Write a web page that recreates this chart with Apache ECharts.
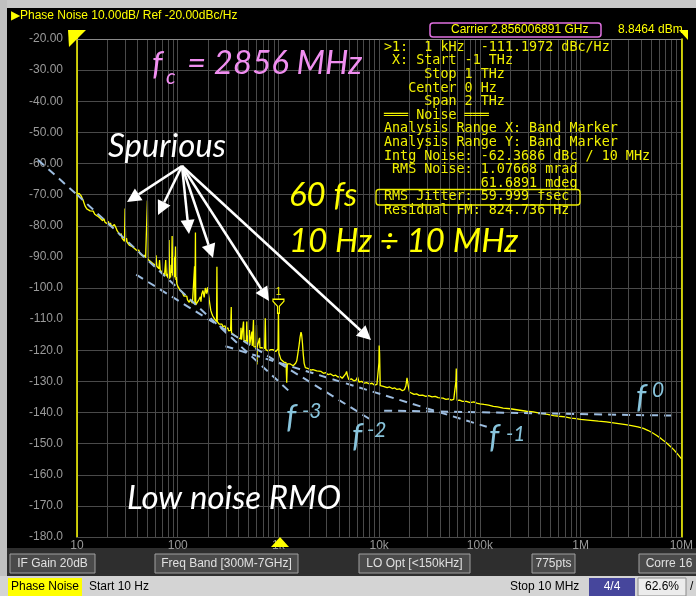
<!DOCTYPE html>
<html>
<head>
<meta charset="utf-8">
<script src="https://cdn.jsdelivr.net/npm/echarts@6/dist/echarts.min.js"></script>
<style>
  html, body { margin: 0; padding: 0; background: #000; }
  #chart { width: 696px; height: 596px; }
</style>
</head>
<body>
<div id="chart"></div>
<script>
// phase noise trace, [offset freq Hz, dBc/Hz]
const trace = [
  [10,-70.0],[10.5,-69.6],[11,-70.4],[11.5,-71.8],[12,-73.6],[12.5,-74.6],[13,-74.1],[13.5,-75.2],[14,-75.8],[14.5,-75.3],
  [15,-76.3],[15.5,-76.0],[16,-76.9],[16.5,-76.4],[17,-77.6],[17.5,-77.2],[18,-78.4],[18.5,-77.7],[19,-78.9],[19.5,-78.4],
  [20,-79.3],[20.5,-78.6],[21,-80.0],[21.5,-79.1],[22,-80.4],[22.5,-80.9],[23,-80.5],[23.5,-79.6],[24,-79.0],[24.5,-80.8],
  [25,-81.6],[26,-82.4],[27,-83.2],[27.5,-82.5],[28,-84.0],[28.5,-83.4],[29,-84.6],[29.6,-85.0],[30,-74.5],[30.4,-85.2],
  [31,-84.0],[31.5,-85.3],[32,-84.8],[33,-86.2],[34,-85.7],[35,-86.6],[36,-86.0],[37,-87.2],[38,-86.8],[39,-87.9],
  [40,-88.4],[41,-87.8],[42,-88.9],[43,-88.5],[44,-89.6],[45,-89.2],[46,-90.0],[47,-89.5],[48,-90.3],[49.5,-90.6],
  [50,-71.9],[50.5,-90.8],[52,-90.4],[53,-91.3],[55,-91.0],[56,-92.0],[58,-91.6],[60,-92.8],[61,-89.5],[62,-93.0],
  [64,-92.6],[65,-93.8],[66,-91.0],[67,-94.2],[69,-94.0],[70,-95.0],[72,-94.6],[74,-95.8],[75,-95.4],[76,-91.0],
  [77,-96.2],[78.5,-95.5],[80,-96.8],[81,-93.0],[82,-84.6],[83,-97.0],[84,-95.6],[85,-96.6],[86,-92.5],[87,-95.2],
  [88,-83.3],[89,-96.0],[90,-94.8],[91,-97.0],[92,-90.0],[93,-96.5],[94,-93.0],[95,-86.7],[96,-97.4],[97,-96.5],
  [98,-98.6],[100,-99.4],[103,-98.8],[105,-100.6],[108,-100.1],[110,-101.2],[113,-100.8],[115,-102.6],[118,-102.0],[120,-103.2],
  [123,-102.6],[125,-103.8],[128,-103.2],[130,-104.6],[133,-103.8],[135,-104.2],[138,-103.6],[140,-104.9],[143,-105.3],[145,-104.6],
  [147,-93.0],[148,-105.2],[149,-104.8],[150,-82.2],[151,-105.4],[153,-104.8],[155,-105.2],[158,-104.4],[160,-104.8],[163,-103.6],
  [165,-104.0],[168,-102.8],[170,-104.4],[173,-102.0],[175,-102.6],[178,-100.8],[180,-101.4],[183,-103.0],[185,-102.4],[188,-100.0],
  [190,-99.6],[193,-101.8],[195,-101.0],[198,-99.8],[200,-100.4],[203,-102.5],[205,-103.6],[208,-105.0],[210,-105.6],[213,-107.2],
  [215,-106.6],[218,-108.2],[220,-107.6],[223,-109.0],[225,-108.6],[228,-109.6],[230,-108.8],[233,-110.0],[235,-109.4],[238,-110.6],
  [241,-110.2],[243,-110.8],[245,-93.2],[247,-110.8],[250,-110.4],[253,-111.4],[255,-110.9],[258,-111.6],[260,-111.0],[263,-111.8],
  [267,-111.3],[270,-112.0],[275,-111.6],[280,-112.4],[285,-112.0],[290,-112.8],[295,-112.2],[300,-113.2],[305,-112.6],[310,-113.4],
  [315,-112.8],[320,-113.8],[325,-113.2],[330,-114.0],[335,-113.6],[338,-114.2],[340,-106.1],[342,-114.4],[345,-113.8],[350,-114.6],
  [355,-114.0],[360,-115.0],[365,-114.4],[370,-115.2],[375,-114.8],[380,-115.6],[385,-115.0],[390,-115.8],[395,-115.2],[400,-116.0],
  [405,-115.4],[410,-116.2],[415,-115.6],[420,-116.4],[425,-112.8],[430,-116.6],[435,-116.0],[440,-116.8],[445,-116.2],[450,-110.8],
  [455,-116.8],[460,-117.2],[465,-116.4],[470,-117.4],[475,-116.6],[480,-117.0],[485,-110.8],[490,-117.6],[495,-117.0],[500,-117.8],
  [505,-117.2],[510,-118.0],[515,-113.5],[520,-118.0],[525,-117.4],[530,-118.2],[535,-117.6],[540,-118.4],[545,-114.0],[550,-118.6],
  [555,-118.0],[560,-118.6],[565,-110.3],[570,-118.8],[575,-118.2],[580,-118.8],[590,-118.4],[600,-119.0],[605,-111.9],[610,-119.2],
  [612,-124.6],[615,-119.0],[620,-118.6],[625,-119.2],[630,-118.8],[640,-119.4],[650,-116.0],[655,-119.2],[660,-119.6],[670,-119.0],
  [680,-119.6],[690,-119.2],[700,-119.8],[710,-119.4],[720,-119.8],[730,-119.4],[740,-109.7],[750,-119.8],[760,-119.4],[770,-120.0],
  [780,-119.6],[790,-120.2],[800,-119.8],[820,-120.2],[840,-119.8],[860,-120.4],[880,-119.8],[900,-120.2],[920,-119.6],[940,-120.4],
  [960,-119.8],[980,-120.4],[990,-119.6],[1000,-106.5],[1010,-120.8],[1020,-121.4],[1040,-122.2],[1060,-123.0],[1080,-122.6],[1100,-123.4],
  [1130,-123.8],[1160,-124.2],[1190,-124.0],[1208,-130.4],[1225,-124.4],[1250,-124.2],[1280,-124.6],[1310,-124.4],[1340,-124.8],[1370,-124.6],
  [1400,-125.0],[1440,-124.8],[1480,-124.2],[1520,-123.4],[1560,-121.0],[1600,-118.6],[1640,-115.8],[1675,-114.2],[1700,-115.0],[1730,-117.6],
  [1760,-121.0],[1800,-124.2],[1850,-125.6],[1900,-126.0],[1950,-125.8],[2000,-126.2],[2100,-126.4],[2200,-126.2],[2300,-126.8],[2400,-126.6],
  [2500,-127.0],[2650,-126.8],[2800,-127.4],[2950,-127.2],[3100,-127.8],[3300,-127.6],[3500,-128.2],[3700,-128.0],[3900,-128.6],[4100,-128.4],
  [4300,-129.0],[4500,-128.8],[4650,-127.6],[4750,-126.8],[4850,-128.2],[5000,-129.4],[5300,-129.2],[5600,-129.8],[5900,-129.6],[6100,-128.6],
  [6300,-130.2],[6700,-130.0],[7100,-130.6],[7500,-130.4],[8000,-130.8],[8500,-130.6],[9000,-131.2],[9500,-131.0],[9850,-131.4],[9950,-124.0],
  [10000,-118.5],[10100,-121.0],[10250,-131.4],[10600,-131.0],[11000,-131.6],[11500,-131.4],[12000,-132.0],[12700,-131.8],[13500,-132.3],[14300,-132.1],
  [15000,-132.6],[16000,-132.4],[17000,-133.0],[17800,-132.7],[18400,-131.5],[18900,-128.9],[19400,-131.2],[20000,-133.4],[21000,-133.8],[22200,-134.2],
  [23500,-134.0],[25000,-134.5],[27000,-134.4],[29000,-134.8],[31000,-134.6],[33500,-135.0],[36000,-134.8],[38500,-135.2],[40600,-135.3],[43000,-135.4],
  [46000,-135.8],[49000,-135.6],[52000,-136.0],[55000,-135.8],[57000,-136.0],[57800,-130.0],[58300,-125.9],[58800,-132.0],[59500,-136.1],[63000,-136.0],
  [67000,-136.4],[73500,-136.4],[80000,-136.8],[87000,-136.6],[93000,-137.0],[100000,-137.2],[110000,-137.4],[122000,-137.6],[136000,-138.0],[150000,-138.2],
  [170000,-138.6],[200000,-138.8],[240000,-139.2],[290000,-139.6],[340000,-139.8],[400000,-140.3],[470000,-140.6],[540000,-141.0],[610000,-141.2],[700000,-141.4],
  [800000,-141.8],[900000,-142.0],[1000000,-142.2],[1250000,-142.5],[1500000,-142.8],[1800000,-143.0],[2200000,-143.4],[2800000,-143.9],[3200000,-144.2],[3700000,-144.6],
  [4200000,-145.1],[4700000,-145.8],[5200000,-146.6],[5700000,-147.4],[6300000,-148.4],[7100000,-149.7],[7800000,-150.9],[8500000,-152.1],[9200000,-153.4],[10000000,-154.8]
]

// slope guide lines (dashed)
const fitM3 = [[10, -70.0], [1253, -132.9]]
const fitM2 = [[38.7, -95.7], [8240, -142.3]]
const fitM1 = [[298, -118.7], [117000, -144.6]]
const fit0 = [[11200, -139.4], [8100000, -141.0]]
// the f^-3 guide runs on past the left edge, into the label column
const fitM3Start = [38, 160]

const markerFreq = 1000
const markerPeak = -106.5

const yMin = -180, yMax = -20, yStep = 10
const xMin = 10, xMax = 1e7
const xTickLabels = { 10: '10', 100: '100', 1000: '1k', 10000: '10k', 100000: '100k', 1000000: '1M', 10000000: '10M' }

const markerPanel = [
  '>1:  1 kHz  -111.1972 dBc/Hz',
  ' X: Start -1 THz',
  '     Stop 1 THz',
  '   Center 0 Hz',
  '     Span 2 THz',
  '═══ Noise ═══',
  'Analysis Range X: Band Marker',
  'Analysis Range Y: Band Marker',
  'Intg Noise: -62.3686 dBc / 10 MHz',
  ' RMS Noise: 1.07668 mrad',
  '            61.6891 mdeg',
  'RMS Jitter: 59.999 fsec',
  'Residual FM: 824.736 Hz'
]

const buttons = [
  { text: 'IF Gain 20dB', x: 10, w: 85 },
  { text: 'Freq Band [300M-7GHz]', x: 155, w: 143 },
  { text: 'LO Opt [<150kHz]', x: 359, w: 111 },
  { text: '775pts', x: 532, w: 43 },
  { text: 'Corre 16', x: 639, w: 60 }
]

// arrows from "Spurious" to the spurs
const arrowFrom = [182, 166]
const arrowTips = [[127, 202], [158, 215], [189, 234], [213, 258], [269, 301], [371, 340]]

// minor log grid lines 20..90 in every decade
const minorLines = []
for (let d = 10; d < xMax; d *= 10) {
  for (let m = 2; m <= 9; m++) minorLines.push({ xAxis: d * m })
}

const chart = echarts.init(document.getElementById('chart'))

const txt = (x, y, text, font, fill, align) => ({
  type: 'text', z: 100, silent: true,
  style: { x, y, text, font, fill, align: align || 'left', verticalAlign: 'middle', textAlign: align || 'left', textVerticalAlign: 'middle' }
})

const arrow = (from, to) => {
  const dx = to[0] - from[0], dy = to[1] - from[1]
  const len = Math.sqrt(dx * dx + dy * dy)
  const ux = dx / len, uy = dy / len
  const bx = to[0] - ux * 14, by = to[1] - uy * 14
  return [
    { type: 'line', z: 90, silent: true, shape: { x1: from[0], y1: from[1], x2: bx, y2: by }, style: { stroke: '#fff', lineWidth: 2.5 } },
    { type: 'polygon', z: 90, silent: true, shape: { points: [to, [bx - uy * 7, by + ux * 7], [bx + uy * 7, by - ux * 7]] }, style: { fill: '#fff' } }
  ]
}

const dashed = data => ({
  type: 'line', data, symbol: 'none', silent: true, z: 4,
  lineStyle: { color: '#9dbde0', width: 2, type: [8, 6] }
})

chart.setOption({
  backgroundColor: '#000',
  animation: false,
  grid: { left: 77, top: 39, width: 609, height: 498 },
  xAxis: {
    type: 'log', logBase: 10, min: xMin, max: xMax,
    axisLine: { lineStyle: { color: '#4a4a4a' } },
    axisTick: { show: false },
    splitLine: { lineStyle: { color: '#4a4a4a', width: 1 } },
    axisLabel: {
      color: '#9a9a9a', fontSize: 12, fontFamily: 'Liberation Sans', margin: 3,
      formatter: v => xTickLabels[Math.round(v)] || ''
    }
  },
  yAxis: [
    {
      type: 'value', min: yMin, max: yMax, interval: yStep,
      axisLine: { show: true, lineStyle: { color: '#ffff00', width: 1.5 } },
      axisTick: { show: false },
      splitLine: { lineStyle: { color: '#4a4a4a', width: 1 } },
      axisLabel: {
        fontSize: 12, fontFamily: 'Liberation Sans', margin: 14,
        color: v => (v === yMax ? '#ffff00' : '#9a9a9a'),
        formatter: v => (v > -100 ? v.toFixed(2) : v.toFixed(1))
      }
    },
    {
      type: 'value', min: yMin, max: yMax, interval: yStep, position: 'right',
      axisLine: { show: true, lineStyle: { color: '#ffff00', width: 1.5 } },
      axisTick: { show: false }, axisLabel: { show: false }, splitLine: { show: false }
    }
  ],
  series: [
    {
      type: 'line', data: [], z: 1, silent: true,
      markLine: {
        silent: true, symbol: ['none', 'none'], label: { show: false }, animation: false,
        lineStyle: { color: '#4a4a4a', width: 1, type: 'solid' },
        emphasis: { disabled: true },
        data: [...minorLines, { yAxis: yMax, lineStyle: { color: '#8a8a8a' } }]
      }
    },
    {
      type: 'line', data: trace, symbol: 'none', z: 3, silent: true,
      lineStyle: { color: '#ffff00', width: 1.3 },
      markPoint: {
        silent: true, animation: false,
        symbol: 'path://M0,0 L12,0 L12,2 L7,7 L7,14 L5,14 L5,7 L0,2 Z',
        symbolSize: [11, 14], symbolOffset: [0, -2],
        itemStyle: { color: '#000', borderColor: '#ffff00', borderWidth: 1.3 },
        label: { show: true, position: 'top', distance: 1, formatter: '1', color: '#ffff00', fontSize: 10, fontFamily: 'Liberation Sans' },
        data: [{ coord: [markerFreq, markerPeak] }]
      }
    },
    dashed(fitM3),
    dashed(fitM2),
    dashed(fitM1),
    dashed(fit0)
  ]
})

const m3Edge = chart.convertToPixel({ gridIndex: 0 }, fitM3[0])

const graphics = [
  // frame
  { type: 'rect', shape: { x: 0, y: 0, width: 696, height: 8 }, style: { fill: '#c8c8c8' } },
  { type: 'rect', shape: { x: 0, y: 0, width: 7, height: 596 }, style: { fill: '#c0c0c0' } },
  { type: 'rect', shape: { x: 7, y: 548, width: 689, height: 28 }, style: { fill: '#2e2e2e' } },
  { type: 'rect', shape: { x: 0, y: 576, width: 696, height: 20 }, style: { fill: '#d4d4d4' } },
  txt(11, 16, '▶Phase Noise 10.00dB/ Ref -20.00dBc/Hz', '12px "Liberation Sans"', '#ffff00'),
  { type: 'rect', shape: { x: 430, y: 23, width: 171, height: 14, r: 3 }, style: { fill: 'none', stroke: '#e070e0', lineWidth: 1.5 } },
  txt(451, 30, 'Carrier 2.856006891 GHz', '12px "Liberation Sans"', '#ffff00'),
  txt(618, 30, '8.8464 dBm', '12px "Liberation Sans"', '#ffff00'),
  // f^-3 guide extension
  { type: 'line', z: 80, silent: true, shape: { x1: fitM3Start[0], y1: fitM3Start[1], x2: m3Edge[0], y2: m3Edge[1] }, style: { stroke: '#9dbde0', lineWidth: 2, lineDash: [8, 6] } },
  // reference level / trace flags
  { type: 'polygon', z: 95, shape: { points: [[68, 30], [86, 30], [69, 47]] }, style: { fill: '#ffff00' } },
  { type: 'line', z: 95, shape: { x1: 77, y1: 30, x2: 77, y2: 39 }, style: { stroke: '#ffff00', lineWidth: 1.5 } },
  { type: 'polygon', z: 95, shape: { points: [[679, 30], [688, 30], [688, 40]] }, style: { fill: '#ffff00' } },
  { type: 'polygon', z: 95, shape: { points: [[280, 537], [289, 547], [271, 547]] }, style: { fill: '#ffff00' } },
  // marker panel
  ...markerPanel.map((s, i) => txt(384, 47.3 + i * 13.6, s, '13.4px "DejaVu Sans Mono"', '#f0f000')),
  { type: 'rect', z: 100, shape: { x: 376, y: 189.5, width: 204, height: 15.5, r: 3 }, style: { fill: 'none', stroke: '#f0f000', lineWidth: 1.3 } },
  // annotations
  txt(152, 64, 'f', 'italic 33px Lato', '#f08ef0'),
  txt(166, 77, 'c', 'italic 21px Lato', '#f08ef0'),
  txt(187, 63, '= 2856 MHz', 'italic 33px Lato', '#f08ef0'),
  txt(108, 146, 'Spurious', 'italic 33px Lato', '#ffffff'),
  txt(289, 195, '60 fs', 'italic 33px Lato', '#ffff00'),
  txt(289, 241, '10 Hz ÷ 10 MHz', 'italic 33px Lato', '#ffff00'),
  txt(127, 498, 'Low noise RMO', 'italic 33px Lato', '#ffffff'),
  txt(286, 418, 'f', 'italic 32px Lato', '#88c4dc'),
  txt(302, 411, '-3', 'italic 21px Lato', '#88c4dc'),
  txt(352, 437, 'f', 'italic 32px Lato', '#88c4dc'),
  txt(367, 430, '-2', 'italic 21px Lato', '#88c4dc'),
  txt(489, 438, 'f', 'italic 32px Lato', '#88c4dc'),
  txt(506, 434, '-1', 'italic 21px Lato', '#88c4dc'),
  txt(636, 398, 'f', 'italic 32px Lato', '#88c4dc'),
  txt(652, 390, '0', 'italic 21px Lato', '#88c4dc'),
  ...arrowTips.flatMap(t => arrow(arrowFrom, t)),
  // soft-key bar
  ...buttons.flatMap(b => [
    { type: 'rect', shape: { x: b.x, y: 554, width: b.w, height: 19 }, style: { fill: '#4a4a4a', stroke: '#a0a0a0', lineWidth: 1 } },
    txt(b.x + b.w / 2, 564, b.text, '12px "Liberation Sans"', '#e0e0e0', 'center')
  ]),
  // status bar
  { type: 'rect', shape: { x: 8, y: 578, width: 74, height: 18 }, style: { fill: '#ffff00' } },
  txt(11, 587, 'Phase Noise', '12px "Liberation Sans"', '#000'),
  txt(89, 587, 'Start 10 Hz', '12px "Liberation Sans"', '#000'),
  txt(510, 587, 'Stop 10 MHz', '12px "Liberation Sans"', '#000'),
  { type: 'rect', shape: { x: 589, y: 578, width: 46, height: 18 }, style: { fill: '#46469c' } },
  txt(612, 587, '4/4', '12px "Liberation Sans"', '#fff', 'center'),
  { type: 'rect', shape: { x: 638, y: 578, width: 48, height: 18 }, style: { fill: '#ececec', stroke: '#8a8a8a', lineWidth: 1 } },
  txt(662, 587, '62.6%', '12px "Liberation Sans"', '#000', 'center'),
  txt(690, 587, '/', '12px "Liberation Sans"', '#000')
]

chart.setOption({ graphic: graphics })
</script>
</body>
</html>
